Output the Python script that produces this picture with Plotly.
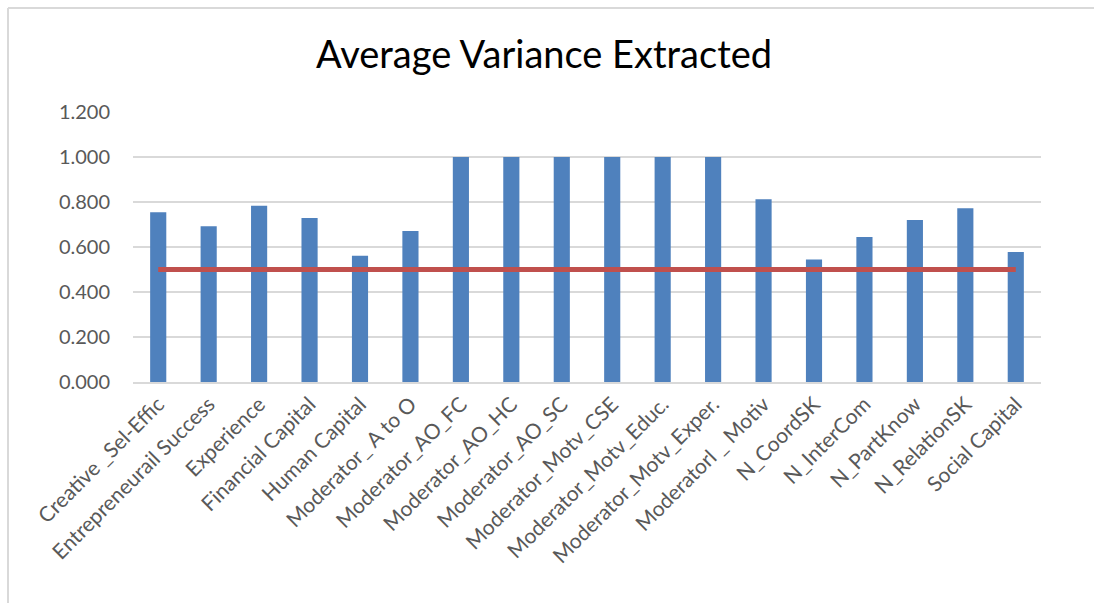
import plotly.graph_objects as go

categories = [
    "Creative _Sel-Effic", "Entrepreneurail Success", "Experience", "Financial Capital",
    "Human Capital", "Moderator_ A to O", "Moderator_AO_FC", "Moderator_AO_HC",
    "Moderator_AO_SC", "Moderator_Motv_CSE", "Moderator_Motv_Educ.", "Moderator_Motv_Exper.",
    "Moderatorl _ Motiv", "N_CoordSK", "N_InterCom", "N_PartKnow", "N_RelationSK", "Social Capital",
]
ave_values = [0.754, 0.692, 0.783, 0.729, 0.561, 0.671, 1.000, 1.000, 1.000, 1.000,
              1.000, 1.000, 0.812, 0.545, 0.644, 0.720, 0.772, 0.578]
threshold = [0.5] * len(categories)
y_ticks = [0.0, 0.2, 0.4, 0.6, 0.8, 1.0, 1.2]

FONT = "Lato"
OFF = 0  # body margin removed below
W, H = 1104, 612
# plot area in window pixels
X0, X1, Y0, Y1 = 133, 1041, 112, 382
L, R, T, B = X0 - OFF, W - (X1 - OFF), Y0 - OFF, H - (Y1 - OFF)
pw, ph = W - L - R, H - T - B


def px_x(p):  # window px -> paper x
    return (p - OFF - L) / pw


def px_y(p):  # window px -> paper y
    return (H - B - (p - OFF)) / ph


fig = go.Figure()
fig.add_trace(go.Bar(x=categories, y=ave_values, marker=dict(color="#4F81BD", line=dict(width=0)),
                     width=0.32, showlegend=False))
fig.add_trace(go.Scatter(x=categories, y=threshold, mode="lines",
                         line=dict(color="#C0504D", width=5), showlegend=False))

fig.update_layout(
    width=W, height=H,
    margin=dict(l=L, r=R, t=T, b=B),
    paper_bgcolor="white", plot_bgcolor="white",
    font=dict(family=FONT, color="#595959"),
    title=dict(text="Average Variance Extracted", x=(544 - OFF) / W,
               xanchor="center", y=1 - (55 - OFF) / H, yanchor="middle",
               font=dict(family=FONT, size=38, color="#000000")),
    bargap=0.68,
    xaxis=dict(tickangle=-45, tickfont=dict(size=21, color="#595959"),
               showline=True, linecolor="#D9D9D9", linewidth=1.5, ticks="",
               showgrid=False),
    yaxis=dict(range=[0, 1.2], tickvals=y_ticks, tickformat=".3f",
               tickfont=dict(size=20, color="#595959"),
               showgrid=True, gridcolor="#D9D9D9", gridwidth=1.5,
               zeroline=False, showline=False, ticks="", ticklabelstandoff=22),
    shapes=[
        dict(type="line", xref="paper", yref="paper", x0=px_x(8), x1=px_x(1110), y0=px_y(8), y1=px_y(8),
             line=dict(color="#D9D9D9", width=2)),
        dict(type="line", xref="paper", yref="paper", x0=px_x(8), x1=px_x(8), y0=px_y(8), y1=px_y(620),
             line=dict(color="#D9D9D9", width=2)),
    ],
)
fig.write_html(
    "out.html",
    config={"displayModeBar": False},
    post_script="document.body.style.margin='0';document.body.style.overflow='hidden';",
)
